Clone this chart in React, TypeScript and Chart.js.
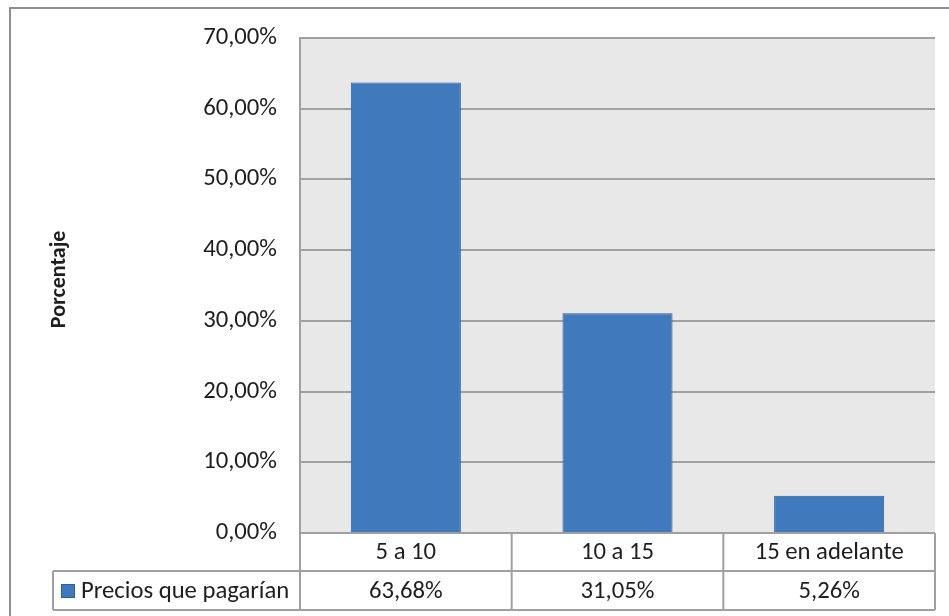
import React, { useEffect, useRef } from "react";
import { Chart, registerables } from "chart.js";

Chart.register(...registerables);

const categories = ["5 a 10", "10 a 15", "15 en adelante"];
const seriesName = "Precios que pagarían";
const values = [63.68, 31.05, 5.26];
const valueLabels = ["63,68%", "31,05%", "5,26%"];
const yTitle = "Porcentaje";

const FONT = "Carlito, Calibri, Lato, 'Noto Sans', sans-serif";
const FONT_SIZE = 24.7;
const GRID = "#a0a0a0";
const BAR_FILL = "#4079bc";
const BAR_EDGE = "#2d5e96";
const TEXT = "#1e1e1e";

const fmtPct = (v: number) => v.toFixed(2).replace(".", ",") + "%";

// Plot background, outer frame, axis title and the data table under the bars
const excelLook = {
  id: "excelLook",
  beforeDraw(chart: any) {
    const { ctx, chartArea: a, width, height } = chart;
    ctx.save();
    ctx.fillStyle = "#ffffff";
    ctx.fillRect(0, 0, width, height);
    ctx.fillStyle = "#e8e8e8";
    ctx.fillRect(a.left, a.top, a.right - a.left, a.bottom - a.top);
    // outer chart frame
    ctx.strokeStyle = "#8e8e8e";
    ctx.lineWidth = 2;
    ctx.beginPath();
    ctx.moveTo(10, height + 2);
    ctx.lineTo(10, 8);
    ctx.lineTo(width + 2, 8);
    ctx.stroke();
    ctx.restore();
  },
  afterDraw(chart: any) {
    const { ctx, chartArea: a } = chart;
    const xs = chart.scales.x;
    const n = categories.length;
    const cellW = (a.right - a.left) / n;
    const row1 = a.bottom;
    const row2 = a.bottom + 38;
    const row3 = a.bottom + 77;
    const legendLeft = 53;

    ctx.save();
    ctx.strokeStyle = GRID;
    ctx.lineWidth = 2;
    ctx.beginPath();
    // horizontal rules
    ctx.moveTo(a.left, row1);
    ctx.lineTo(a.right, row1);
    ctx.moveTo(legendLeft, row2);
    ctx.lineTo(a.right, row2);
    ctx.moveTo(legendLeft, row3);
    ctx.lineTo(a.right, row3);
    // vertical rules
    ctx.moveTo(legendLeft, row2);
    ctx.lineTo(legendLeft, row3);
    for (let i = 0; i <= n; i++) {
      const x = a.left + i * cellW;
      ctx.moveTo(x, row1);
      ctx.lineTo(x, row3);
    }
    ctx.stroke();

    ctx.fillStyle = TEXT;
    ctx.font = `${FONT_SIZE}px ${FONT}`;
    ctx.textAlign = "center";
    ctx.textBaseline = "middle";
    categories.forEach((c, i) => {
      const cx = xs.getPixelForValue(i);
      ctx.fillText(c, cx, (row1 + row2) / 2 + 1);
      ctx.fillText(valueLabels[i], cx, (row2 + row3) / 2 + 1);
    });

    // legend key inside the table
    ctx.fillStyle = BAR_FILL;
    ctx.fillRect(61, 584, 14, 14);
    ctx.strokeStyle = BAR_EDGE;
    ctx.lineWidth = 1;
    ctx.strokeRect(61.5, 584.5, 13, 13);
    ctx.fillStyle = TEXT;
    ctx.textAlign = "left";
    ctx.fillText(seriesName, 81, (row2 + row3) / 2 + 1);

    // rotated axis title
    ctx.translate(59, (a.top + a.bottom) / 2 - 6);
    ctx.rotate(-Math.PI / 2);
    ctx.font = `bold 22px ${FONT}`;
    ctx.textAlign = "center";
    ctx.fillText(yTitle, 0, 0);
    ctx.restore();
  },
};

export default function App() {
  const ref = useRef<HTMLCanvasElement | null>(null);

  useEffect(() => {
    if (!ref.current) return;
    const chart = new Chart(ref.current, {
      type: "bar",
      data: {
        labels: categories,
        datasets: [
          {
            label: seriesName,
            data: values,
            backgroundColor: BAR_FILL,
            borderColor: BAR_EDGE,
            borderWidth: 1,
            categoryPercentage: 1,
            barPercentage: 0.52,
          },
        ],
      },
      options: {
        animation: false,
        responsive: false,
        devicePixelRatio: 1,
        layout: { padding: { top: 36, right: 14, bottom: 83, left: 0 } },
        plugins: {
          legend: { display: false },
          tooltip: { enabled: false },
          title: { display: false },
        },
        scales: {
          x: { display: false },
          y: {
            min: 0,
            max: 70,
            afterFit(scale: any) {
              scale.width = 300;
            },
            ticks: {
              stepSize: 10,
              padding: 23,
              color: TEXT,
              font: { family: FONT, size: FONT_SIZE },
              callback: (v: any) => fmtPct(Number(v)),
            },
            grid: { color: GRID, lineWidth: 2, drawTicks: false },
            border: { display: true, color: GRID, width: 2 },
          },
        },
      },
      plugins: [excelLook],
    });
    return () => chart.destroy();
  }, []);

  return (
    <div style={{ position: "fixed", left: 0, top: 0, width: 949, height: 616 }}>
      <canvas ref={ref} width={949} height={616} style={{ display: "block" }} />
    </div>
  );
}
